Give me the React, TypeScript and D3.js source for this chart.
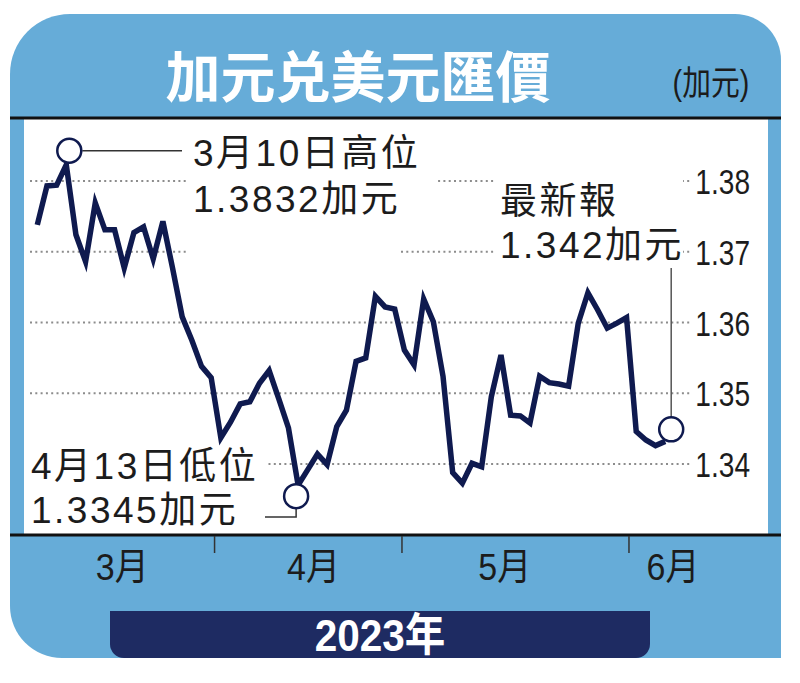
import React from 'react';
import * as d3 from 'd3';

// USD/CAD daily closes (weekdays from 7 Mar 2023)
const values = [
  1.3738, 1.3793, 1.3794, 1.3823, 1.3724, 1.3686, 1.3769, 1.3731, 1.3731, 1.3677,
  1.3727, 1.3735, 1.369, 1.3743, 1.3677, 1.3608, 1.3575, 1.3538, 1.3522, 1.3437,
  1.3459, 1.3485, 1.3488, 1.3514, 1.3532, 1.3492, 1.3451, 1.337, 1.3392, 1.3414,
  1.3399, 1.3453, 1.3476, 1.3545, 1.355, 1.3637, 1.3622, 1.3619, 1.3561, 1.354,
  1.3633, 1.3601, 1.3524, 1.3388, 1.3373, 1.3401, 1.3396, 1.3495, 1.3554, 1.3469,
  1.3468, 1.3458, 1.3524, 1.3515, 1.3513, 1.351, 1.3599, 1.3642, 1.3618, 1.3592,
  1.3599, 1.3607, 1.3446, 1.3434, 1.3426, 1.3432,
];
const yTicks = [1.34, 1.35, 1.36, 1.37, 1.38];
const months = ['3月', '4月', '5月', '6月'];
const monthLabelAt = [8.8, 28.6, 48.4, 65.8];
const monthTickAt = [18.35, 37.75, 61.25];
const title = '加元兑美元匯價';
const unit = '(加元)';
const yearLabel = '2023年';
const highNote = ['3月10日高位', '1.3832加元'];
const lowNote = ['4月13日低位', '1.3345加元'];
const lastNote = ['最新報', '1.342加元'];

const FONT = "'Liberation Sans', 'Noto Sans CJK TC', sans-serif";
const CJK = "'Noto Sans CJK TC', 'Liberation Sans', sans-serif";
const BLUE = '#66acd8';
const NAVY = '#1e2b62';
const LINE = '#0f1a4f';
const INK = '#1c1c1c';

export default function App() {
  const x = d3.scaleLinear().domain([0, values.length - 1]).range([37.3, 665.2]);
  const y = d3.scaleLinear().domain([1.34, 1.38]).range([464, 181]);
  const line = d3.line<number>().x((_, i) => x(i)).y((d) => y(d));
  const hiI = d3.maxIndex(values);
  const loI = d3.minIndex(values);
  const lastI = values.length - 1;

  const L = 10, R = 781, T = 14, B = 658;
  const panel = `M${L + 60},${T} H${R - 46} A46,46 0 0 1 ${R},${T + 46} V${B} H${L + 52} A52,52 0 0 1 ${L},${B - 52} V${T + 60} A60,60 0 0 1 ${L + 60},${T} Z`;
  const bx0 = 110, bx1 = 650, by0 = 611, by1 = B, br = 14;
  const bar = `M${bx0},${by0} H${bx1} V${by1 - br} A${br},${br} 0 0 1 ${bx1 - br},${by1} H${bx0 + br} A${br},${br} 0 0 1 ${bx0},${by1 - br} Z`;

  const hx = x(hiI) + 3, hy = y(values[hiI]) - 14;
  const lx = x(loI) - 2, ly = y(values[loI]) + 11;
  const ex = x(lastI) + 6, ey = y(values[lastI]) - 12;
  const noteStyle = { fontFamily: FONT, fontSize: 37, fill: INK, letterSpacing: 2.5 } as const;

  return (
    <div style={{ position: 'fixed', left: 0, top: 0 }}>
      <svg width={800} height={683} viewBox="0 0 800 683" style={{ display: 'block', background: '#fff' }}>
        <path d={panel} fill={BLUE} />
        <rect x={24} y={119} width={744} height={416} fill="#fff" />
        <rect x={L} y={116.5} width={R - L} height={3} fill="#111" />
        <rect x={L} y={533.5} width={R - L} height={3} fill="#111" />

        {/* gridlines */}
        {yTicks.map((t) => (
          <line key={t} x1={30} x2={690} y1={y(t)} y2={y(t)} stroke="#8c8c8c" strokeWidth={2} strokeDasharray="2 3.3" />
        ))}
        {/* white label backgrounds */}
        <rect x={188} y={128} width={249} height={58} fill="#fff" />
        <rect x={188} y={180} width={212} height={80} fill="#fff" />
        <rect x={495} y={178} width={188} height={88} fill="#fff" />
        <rect x={24} y={438} width={242} height={94} fill="#fff" />

        {/* y labels */}
        {yTicks.map((t) => (
          <text key={t} transform={`translate(750,${y(t) + 13}) scale(0.78,1)`} textAnchor="end"
            style={{ fontFamily: FONT, fontSize: 36, fill: INK }}>{t.toFixed(2)}</text>
        ))}

        {/* data line */}
        <path d={line(values) || ''} fill="none" stroke={LINE} strokeWidth={5.5} strokeLinejoin="miter" strokeMiterlimit={4} />

        {/* leaders */}
        <line x1={hx + 13} x2={182} y1={hy} y2={hy} stroke="#333" strokeWidth={1.5} />
        <polyline points={`${265},${517} ${lx},${517} ${lx},${ly + 12}`} fill="none" stroke="#333" strokeWidth={1.5} />
        <line x1={ex} x2={ex} y1={268} y2={ey - 12} stroke="#555" strokeWidth={1.5} />

        {/* circles */}
        {[[hx, hy], [lx, ly], [ex, ey]].map(([cx, cy], i) => (
          <circle key={i} cx={cx} cy={cy} r={12} fill="#fff" stroke={LINE} strokeWidth={2.5} />
        ))}

        {/* annotations */}
        <text x={193} y={166} style={noteStyle}>{highNote[0]}</text>
        <text x={193} y={212} style={noteStyle}>{highNote[1]}</text>
        <text x={500} y={214} style={noteStyle}>{lastNote[0]}</text>
        <text x={500} y={258} style={noteStyle}>{lastNote[1]}</text>
        <text x={31} y={479} style={noteStyle}>{lowNote[0]}</text>
        <text x={31} y={523} style={noteStyle}>{lowNote[1]}</text>

        {/* title */}
        <text x={358} y={97} textAnchor="middle" style={{ fontFamily: CJK, fontSize: 55, fontWeight: 700, fill: '#fff' }}>{title}</text>
        <text transform="translate(711,95) scale(0.9,1.08)" textAnchor="middle" style={{ fontFamily: FONT, fontSize: 32, fill: INK }}>{unit}</text>

        {/* x axis */}
        {monthTickAt.map((t, i) => (
          <line key={i} x1={x(t)} x2={x(t)} y1={536} y2={553} stroke="#333" strokeWidth={1.5} />
        ))}
        {months.map((m, i) => (
          <text key={m} transform={`translate(${x(monthLabelAt[i])},580) scale(0.92,1)`} textAnchor="middle" style={{ fontFamily: FONT, fontSize: 37, fill: INK }}>{m}</text>
        ))}

        <path d={bar} fill={NAVY} />
        <text transform="translate(380,651) scale(0.9,1)" textAnchor="middle" style={{ fontFamily: FONT, fontSize: 45, fontWeight: 700, fill: '#fff' }}>{yearLabel}</text>
      </svg>
    </div>
  );
}
